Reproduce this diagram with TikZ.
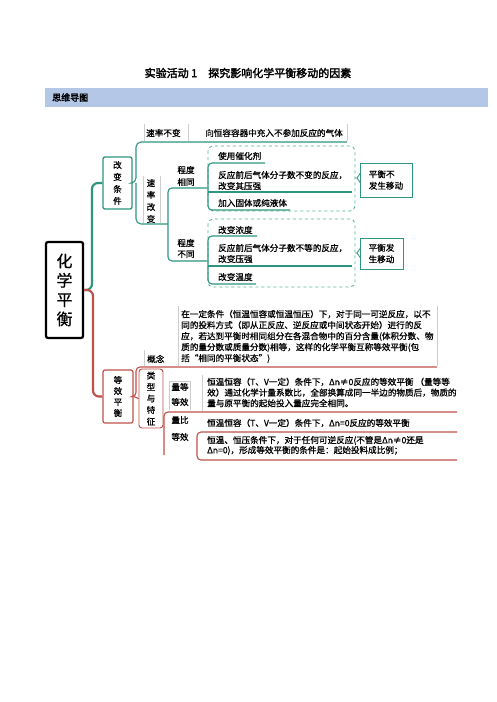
\documentclass[tikz,border=0pt]{standalone}
\usepackage{fontspec}
\setmainfont{Noto Sans CJK SC}[AutoFakeBold=2.5]
\newfontfamily\mmf{Noto Sans CJK SC}[FakeBold=0.8]
\definecolor{tealc}{RGB}{46,150,128}
\definecolor{dashc}{RGB}{80,185,140}
\definecolor{redc}{RGB}{192,80,74}
\definecolor{greyl}{RGB}{205,205,205}
\definecolor{hdrc}{RGB}{180,199,231}
\begin{document}
\begin{tikzpicture}[x=1pt,y=-1pt,
  txt/.style={font=\mmf\fontsize{8.6}{11}\selectfont, inner sep=0pt, align=left},
  vtxt/.style={font=\mmf\fontsize{8.6}{12}\selectfont, inner sep=0pt, align=center},
  tline/.style={draw=tealc, line width=1.1pt},
  tthick/.style={draw=tealc, line width=2.2pt},
  rline/.style={draw=redc, line width=2.2pt},
  rline1/.style={draw=redc, line width=1.1pt},
  gline/.style={draw=greyl, line width=0.6pt},
  dbox/.style={draw=dashc, dashed, line width=0.9pt, rounded corners=5pt},
  sumbox/.style={draw=tealc, line width=0.9pt, inner sep=0pt, align=left, font=\mmf\fontsize{8.6}{11.5}\selectfont}
]
\useasboundingbox (0,0) rectangle (496,702);
\fill[white] (0,0) rectangle (496,702);

% title and header
\node[font=\fontsize{11}{13}\selectfont\bfseries, inner sep=0pt] (title) at (248,73) {实验活动 1　探究影响化学平衡移动的因素};
\node[fill=hdrc, minimum width=443pt, minimum height=19pt, anchor=north west, inner sep=0pt] (hdr) at (45,88) {};
\node[anchor=west, font=\fontsize{9}{11}\selectfont\bfseries, inner sep=0pt] (hdrtxt) at (52,97.5) {思维导图};

% root
\node[draw=black, line width=2.2pt, rounded corners=2pt, minimum width=37pt, minimum height=96pt, font=\mmf\fontsize{16}{19.3}\selectfont, align=center, inner sep=0pt] (root) at (64.5,290) {化\\学\\平\\衡};

% change conditions
\node[draw=tealc, line width=1.3pt, rounded corners=2pt, minimum width=29pt, minimum height=52pt, vtxt] (gbtj) at (117.5,183) {改\\变\\条\\件};
\draw[tthick, rounded corners=6pt] (root.east) -- (92,290) -- (92,183) -- (gbtj.west);

\coordinate (j1) at (136,183);
\coordinate (j2) at (168,224);
\node[txt, anchor=west] (slbb) at (146,133) {速率不变};
\node[txt, anchor=west] (slbbc) at (205,133) {向恒容容器中充入不参加反应的气体};
\draw[gline] (144,124) -- (144,141) (188,124) -- (188,141) (347,124) -- (347,141);
\draw[tline, rounded corners=5pt] (gbtj.east) -- (j1) -- (136,142) -- (347,142);
\draw[tline, rounded corners=5pt] (j1) -- (136,224) -- (j2);

\node[vtxt] (slgb) at (151,201) {速\\率\\改\\变};
\draw[gline] (143,176) -- (143,223) (160,176) -- (160,223);

\node[txt, align=center, font=\mmf\fontsize{8.6}{12}\selectfont] (cdxt) at (186,176) {程度\\相同};
\node[txt, align=center, font=\mmf\fontsize{8.6}{11}\selectfont] (cdbt) at (186,248.5) {程度\\不同};
\draw[tline, rounded corners=4pt] (207,188) -- (168,188) -- (168,261) -- (207,261);

% dashed group 1
\draw[dbox] (208,146) rectangle (355,211);
\draw[tline, rounded corners=4pt] (265,163) -- (208,163) -- (208,210) -- (290,210);
\draw[tline] (208,192) -- (352,192);
\node[txt, anchor=west] (a1) at (218,156) {使用催化剂};
\node[txt, anchor=west] (a2) at (218,180.5) {反应前后气体分子数不变的反应，\\改变其压强};
\node[txt, anchor=west] (a3) at (218,203) {加入固体或纯液体};
\node[sumbox, minimum width=52pt, minimum height=34pt] (pb1) at (386,180) {平衡不\\发生移动};
\draw[tline, line width=0.8pt] (355,178) -- (357,178) (360.5,173) -- (357,178) -- (360.5,183);

% dashed group 2
\draw[dbox] (208,219) rectangle (355,287);
\draw[tline, rounded corners=4pt] (257,236) -- (208,236) -- (208,284) -- (256,284);
\draw[tline] (208,266) -- (352,266);
\node[txt, anchor=west] (b1) at (218,230) {改变浓度};
\node[txt, anchor=west] (b2) at (218,253.5) {反应前后气体分子数不等的反应，\\改变压强};
\node[txt, anchor=west] (b3) at (218,277) {改变温度};
\node[sumbox, minimum width=43pt, minimum height=31pt] (pb2) at (381.5,253.5) {平衡发\\生移动};
\draw[tline, line width=0.8pt] (355,253) -- (357,253) (360.5,248) -- (357,253) -- (360.5,258);

% equivalent equilibrium
\node[draw=redc, line width=1.2pt, rounded corners=2pt, minimum width=30pt, minimum height=53pt, vtxt, font=\mmf\fontsize{8.6}{11}\selectfont] (dxph) at (118,396.5) {等\\效\\平\\衡};
\draw[rline, rounded corners=6pt] (root.east) -- (93,290) -- (93,396.5) -- (dxph.west);

\node[txt, anchor=west] (gn) at (147,359) {概念};
\draw[gline] (144,350) -- (144,366) (178,306) -- (178,366) (437,306) -- (437,366);
\node[txt, anchor=west] (gnp) at (181,336.5) {在一定条件（恒温恒容或恒温恒压）下，对于同一可逆反应，以不\\同的投料方式（即从正反应、逆反应或中间状态开始）进行的反\\应，若达到平衡时相同组分在各混合物中的百分含量(体积分数、物\\质的量分数或质量分数)相等，这样的化学平衡互称等效平衡(包\\括“相同的平衡状态”)};
\draw[rline1, rounded corners=4pt] (dxph.east) -- (136,396.5) -- (136,367) -- (437,367);

\node[draw=redc, line width=0.9pt, rounded corners=3pt, minimum width=24pt, minimum height=59pt, vtxt, font=\mmf\fontsize{8.6}{11.5}\selectfont] (lxtz) at (151,398.5) {类\\型\\与\\特\\征};
\draw[rline1] (dxph.east) -- (lxtz.west);

\node[txt, align=center, font=\mmf\fontsize{8.6}{15}\selectfont] (ldd) at (180,394.5) {量等\\等效};
\draw[gline] (169,381) -- (169,410) (190,381) -- (190,410) (169,381) -- (190,381);
\node[txt, anchor=west, font=\mmf\fontsize{8.6}{10.7}\selectfont] (lddp) at (207,392.5) {恒温恒容（T、V一定）条件下，Δn≠0反应的等效平衡 （量等等\\效）通过化学计量系数比，全部换算成同一半边的物质后，物质的\\量与原平衡的起始投入量应完全相同。};
\draw[gline] (202,375) -- (202,411);
\draw[rline1, rounded corners=4pt] (164,455) -- (164,412) -- (457,412);

\node[txt, align=center, font=\mmf\fontsize{8.6}{17}\selectfont] (lbd) at (180,428.5) {量比\\等效};
\node[txt, anchor=west] (lbda) at (207,423) {恒温恒容（T、V一定）条件下，Δn=0反应的等效平衡};
\node[txt, anchor=west, font=\mmf\fontsize{8.6}{10}\selectfont] (lbdb) at (207,445.5) {恒温、恒压条件下，对于任何可逆反应(不管是Δn≠0还是\\Δn=0)，形成等效平衡的条件是：起始投料成比例；};
\draw[rline1, rounded corners=4pt] (457,432) -- (197,432) -- (197,460) -- (457,460);
\end{tikzpicture}
\end{document}
